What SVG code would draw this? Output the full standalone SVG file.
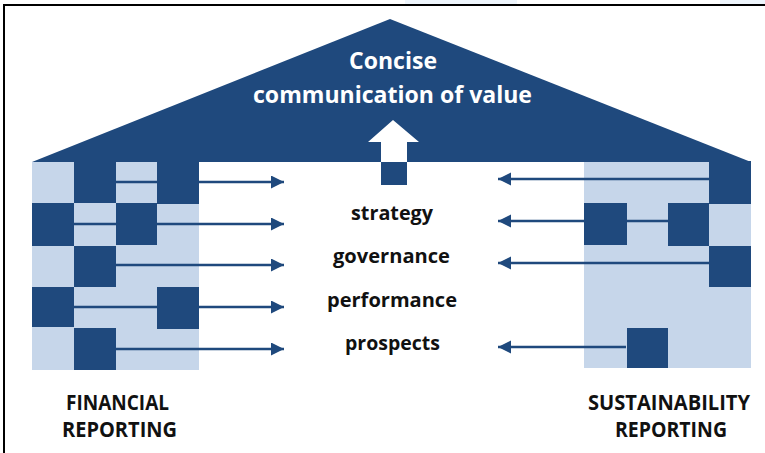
<svg xmlns="http://www.w3.org/2000/svg" width="765" height="453" viewBox="0 0 765 453">
<defs>
<style>
.dk{fill:#1f497d}
.lt{fill:#c6d6ea}
.ln{stroke:#1f497d;stroke-width:2.5;fill:none}
.t{font-family:"Open Sans","Liberation Sans",sans-serif;font-weight:bold;text-anchor:middle}
.w{fill:#ffffff;font-size:22.5px}
.b{fill:#111111;font-size:20px}
.c{fill:#111111;font-size:21px}
</style>
<marker id="ah" markerUnits="userSpaceOnUse" markerWidth="14" markerHeight="14" refX="13" refY="6.5" orient="auto">
<path d="M0,0 L13,6.5 L0,13 Z" fill="#1f497d"/>
</marker>
</defs>
<rect width="765" height="453" fill="#ffffff"/>
<rect x="405" y="0" width="112" height="4" fill="#eef5fc"/>
<rect x="720" y="0" width="45" height="4" fill="#eef5fc"/>
<path d="M4,453 V5 H765" fill="none" stroke="#000" stroke-width="2"/>

<g id="roof">
<polygon class="dk" points="390,19 751,162 32,162"/>
<polygon fill="#ffffff" points="393,120 419,142 407,142 407,162 381,162 381,142 368,142"/>
<rect class="dk" x="381" y="162" width="26" height="23"/>
<text class="t w" x="393" y="69" textLength="88" lengthAdjust="spacingAndGlyphs">Concise</text>
<text class="t w" x="392.5" y="103" textLength="279" lengthAdjust="spacingAndGlyphs">communication of value</text>
</g>

<g id="financial-grid">
<rect class="lt" x="32" y="162" width="167" height="208"/>
</g>
<g id="sustainability-grid">
<rect class="lt" x="584" y="162" width="167" height="206"/>
</g>

<g id="connectors">
<line class="ln" x1="116" y1="182" x2="284" y2="182" marker-end="url(#ah)"/>
<line class="ln" x1="74" y1="224" x2="284" y2="224" marker-end="url(#ah)"/>
<line class="ln" x1="116" y1="265" x2="284" y2="265" marker-end="url(#ah)"/>
<line class="ln" x1="74" y1="307" x2="284" y2="307" marker-end="url(#ah)"/>
<line class="ln" x1="116" y1="349" x2="284" y2="349" marker-end="url(#ah)"/>
<line class="ln" x1="709" y1="179" x2="498" y2="179" marker-end="url(#ah)"/>
<line class="ln" x1="668" y1="221" x2="498" y2="221" marker-end="url(#ah)"/>
<line class="ln" x1="709" y1="263" x2="498" y2="263" marker-end="url(#ah)"/>
<line class="ln" x1="626" y1="347" x2="498" y2="347" marker-end="url(#ah)"/>
</g>

<g id="financial-blocks">
<rect class="dk" x="74" y="161" width="42" height="42"/>
<rect class="dk" x="157" y="161" width="42" height="43"/>
<rect class="dk" x="32" y="203" width="42" height="43"/>
<rect class="dk" x="116" y="203" width="41" height="42"/>
<rect class="dk" x="74" y="246" width="42" height="41"/>
<rect class="dk" x="32" y="287" width="42" height="40"/>
<rect class="dk" x="157" y="287" width="42" height="42"/>
<rect class="dk" x="74" y="328" width="42" height="42"/>
</g>

<g id="sustainability-blocks">
<rect class="dk" x="709" y="161" width="42" height="43"/>
<rect class="dk" x="584" y="203" width="43" height="42"/>
<rect class="dk" x="668" y="203" width="41" height="43"/>
<rect class="dk" x="709" y="246" width="42" height="41"/>
<rect class="dk" x="627" y="328" width="41" height="40"/>
</g>

<g id="pillars">
<text class="t b" x="392" y="220" textLength="82" lengthAdjust="spacingAndGlyphs">strategy</text>
<text class="t b" x="391.5" y="263" textLength="117" lengthAdjust="spacingAndGlyphs">governance</text>
<text class="t b" x="392" y="307" textLength="130" lengthAdjust="spacingAndGlyphs">performance</text>
<text class="t b" x="392.5" y="350" textLength="95" lengthAdjust="spacingAndGlyphs">prospects</text>
</g>

<g id="financial-label">
<text class="t c" x="117.5" y="410" textLength="103" lengthAdjust="spacingAndGlyphs">FINANCIAL</text>
<text class="t c" x="119.5" y="437" textLength="115" lengthAdjust="spacingAndGlyphs">REPORTING</text>
</g>
<g id="sustainability-label">
<text class="t c" x="669" y="410" textLength="162" lengthAdjust="spacingAndGlyphs">SUSTAINABILITY</text>
<text class="t c" x="671" y="437" textLength="112" lengthAdjust="spacingAndGlyphs">REPORTING</text>
</g>
</svg>
